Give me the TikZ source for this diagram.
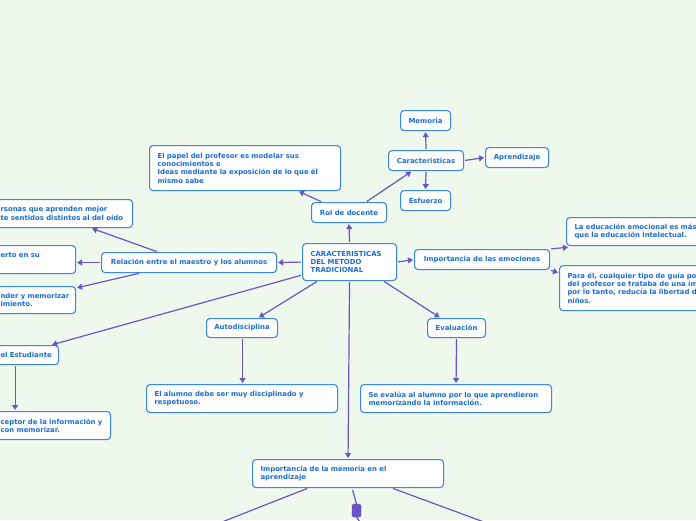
\documentclass[tikz,border=0pt]{standalone}
\usepackage{fontspec}
\setmainfont{DejaVu Sans}
\usetikzlibrary{arrows.meta}
\definecolor{bg}{HTML}{EFF8EC}
\definecolor{bd}{HTML}{3A87E6}
\definecolor{tx}{HTML}{1A6ED8}
\definecolor{ar}{HTML}{6B55C6}
\tikzset{
  box/.style={draw=bd, line width=1.1pt, fill=white, rounded corners=3.5pt, text=tx,
    font=\fontsize{6.9}{8.4}\selectfont\bfseries, inner xsep=0pt, inner ysep=0pt,
    anchor=north west},
  sz/.style n args={2}{minimum width=#1, minimum height=#2},
  lb/.style n args={3}{box, minimum width=#1, minimum height=#2, text width=#3, align=left},
  conn/.style={draw=ar, line width=1.2pt, -{Triangle[length=5pt,width=6pt]},
    shorten <=1pt, shorten >=1pt},
  plain/.style={draw=ar, line width=1.2pt},
  sq/.style={fill=ar, draw=ar, rounded corners=1.5pt, minimum width=9pt, minimum height=13pt, inner sep=0pt}
}
\begin{document}
\begin{tikzpicture}[x=1pt,y=-1pt]
\useasboundingbox (0,0) rectangle (696,520);
\clip (0,0) rectangle (696,520);
\fill[bg] (0,0) rectangle (696,520);

% nodes
\node[lb={94pt}{37pt}{78pt}] (c) at (302,243) {\mbox{CARACTERISTICAS}\\DEL METODO\\TRADICIONAL};
\node[box, sz={75pt}{20pt}] (rol) at (311,202) {Rol de docente};
\node[lb={191pt}{45pt}{175pt}] (papel) at (149,145) {\mbox{El papel del profesor es modelar sus}\\conocimientos e\\\mbox{Ideas mediante la exposición de lo que él}\\mismo sabe};
\node[box, sz={75pt}{20pt}] (car) at (388,150) {Caracteristicas};
\node[box, sz={50pt}{20pt}] (mem) at (400,110) {Memoria};
\node[box, sz={63pt}{20pt}] (apr) at (485,147) {Aprendizaje};
\node[box, sz={50pt}{20pt}] (esf) at (400,190) {Esfuerzo};
\node[box, sz={135pt}{20pt}] (emo) at (414,249) {Importancia de las emociones};
\node[lb={200pt}{28pt}{184pt}] (edu) at (566,217) {La educación emocional es más\\que la educación intelectual.};
\node[lb={200pt}{45pt}{184pt}] (para) at (559,265) {Para él, cualquier tipo de guía po\\del profesor se trataba de una im\\por lo tanto, reducía la libertad d\\niños.};
\node[box, sz={175pt}{20pt}] (rel) at (101,252) {Relación entre el maestro y los alumnos};
\node[lb={140pt}{28pt}{124pt}] (pers) at (-8,199) {\mbox{rsonas que aprenden mejor}\\\mbox{te sentidos distintos al del oído}};
\node[lb={83pt}{28pt}{67pt}] (erto) at (-8,245) {erto en su\\\mbox{}};
\node[lb={83pt}{27pt}{67pt}] (nder) at (-8,286) {\mbox{nder y memorizar}\\imiento.};
\node[lb={66pt}{19pt}{50pt}] (est) at (-8,345) {\mbox{el Estudiante}};
\node[lb={118pt}{28pt}{102pt}] (cept) at (-8,411) {\mbox{ceptor de la información y}\\con memorizar.};
\node[box, sz={71pt}{19pt}] (auto) at (206,318) {Autodisciplina};
\node[lb={191pt}{28pt}{175pt}] (alum) at (146,384) {\mbox{El alumno debe ser muy disciplinado y}\\respetuoso.};
\node[box, sz={58pt}{19pt}] (eval) at (427,318) {Evaluación};
\node[lb={191pt}{28pt}{175pt}] (seval) at (360,384) {\mbox{Se evalúa al alumno por lo que aprendieron}\\memorizando la información.};
\node[lb={191pt}{28pt}{175pt}] (imem) at (252,459) {Importancia de la memoria en el\\aprendizaje};
\node[sq] (sqr) at (356.5,510.5) {};
\coordinate (o1) at (222,522);
\coordinate (o2) at (484,522);
\coordinate (o3) at (360,522);

% connectors
\draw[conn] (c.north) -- (rol.south);
\draw[conn] ([xshift=17pt]rol.north) -- ([xshift=-14pt]car.south);
\draw[conn] ([xshift=-27pt]rol.north) -- ([xshift=53pt]papel.south);
\draw[conn] (car.north) -- (mem.south);
\draw[conn] (car.east) -- (apr.west);
\draw[conn] (car.south) -- (esf.north);
\draw[conn] (c.east) -- (emo.west);
\draw[conn] (emo.north east) -- ([xshift=3pt,yshift=-1pt]edu.south west);
\draw[conn] (emo.south east) -- ([yshift=-8pt]para.north west);
\draw[conn] (c.west) -- (rel.east);
\draw[conn] ([xshift=-31pt]rel.north) -- ([xshift=-42pt]pers.south east);
\draw[conn] (rel.west) -- ([yshift=-3pt]erto.east);
\draw[conn] ([xshift=-49pt]rel.south) -- ([yshift=-2pt]nder.north east);
\draw[conn] ([yshift=-13pt]c.west) -- ([xshift=-8pt]est.north east);
\draw[conn] ([xshift=-44pt]est.south east) -- ([xshift=-96pt]cept.north east);
\draw[conn] ([xshift=-32pt]c.south) -- ([xshift=16pt]auto.north);
\draw[conn] ([xshift=0.5pt]auto.south) -- ([xshift=0.5pt]alum.north);
\draw[conn] ([xshift=34pt]c.south) -- ([xshift=-16pt]eval.north);
\draw[conn] (eval.south) -- (seval.north);
\draw[conn] (c.south) -- (imem.north);
\draw[plain, shorten <=1pt] ([xshift=-40pt]imem.south) -- (o1);
\draw[plain, shorten <=1pt] ([xshift=44pt]imem.south) -- (o2);
\draw[plain, shorten <=2pt] ([xshift=4pt]imem.south) -- (sqr.north);
\draw[plain] (sqr.south) -- (o3);
\end{tikzpicture}
\end{document}
